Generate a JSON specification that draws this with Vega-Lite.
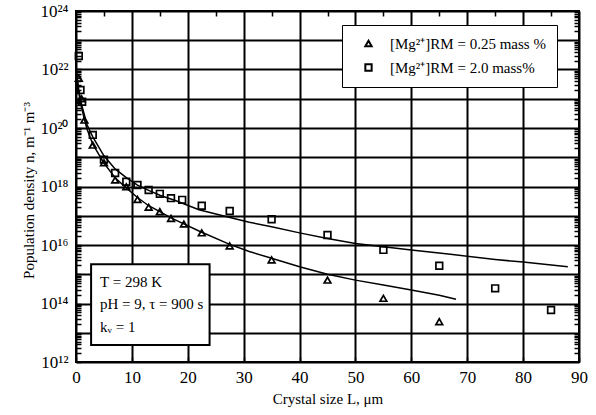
{
  "$schema": "https://vega.github.io/schema/vega-lite/v6.json",
  "width": 503,
  "height": 351,
  "autosize": {"type": "none"},
  "padding": {"left": 76, "top": 11, "right": 17, "bottom": 53},
  "background": "white",
  "config": {
    "view": {"stroke": "black", "strokeWidth": 2},
    "font": "Liberation Serif",
    "axis": {"labelFont": "Liberation Serif", "titleFont": "Liberation Serif", "labelColor": "black", "titleColor": "black", "titleFontWeight": "normal", "tickColor": "black", "tickWidth": 1.5, "gridColor": "black", "gridWidth": 2, "ticks": true, "domain": false},
    "legend": {"labelFont": "Liberation Serif", "labelColor": "black"}
  },
  "datasets": {
    "one": [{"note": "conditions"}],
    "pts": [
      {"series": "[Mg²⁺]RM = 0.25 mass %", "L": 0.5, "n": 5.0e21},
      {"series": "[Mg²⁺]RM = 0.25 mass %", "L": 1.0, "n": 1.0e21},
      {"series": "[Mg²⁺]RM = 0.25 mass %", "L": 1.5, "n": 1.86e20},
      {"series": "[Mg²⁺]RM = 0.25 mass %", "L": 3, "n": 2.6e19},
      {"series": "[Mg²⁺]RM = 0.25 mass %", "L": 5, "n": 6.5e18},
      {"series": "[Mg²⁺]RM = 0.25 mass %", "L": 7, "n": 1.66e18},
      {"series": "[Mg²⁺]RM = 0.25 mass %", "L": 9, "n": 9.8e17},
      {"series": "[Mg²⁺]RM = 0.25 mass %", "L": 11, "n": 3.6e17},
      {"series": "[Mg²⁺]RM = 0.25 mass %", "L": 13, "n": 1.95e17},
      {"series": "[Mg²⁺]RM = 0.25 mass %", "L": 15, "n": 1.38e17},
      {"series": "[Mg²⁺]RM = 0.25 mass %", "L": 17, "n": 8.1e16},
      {"series": "[Mg²⁺]RM = 0.25 mass %", "L": 19.3, "n": 5.2e16},
      {"series": "[Mg²⁺]RM = 0.25 mass %", "L": 22.5, "n": 2.6e16},
      {"series": "[Mg²⁺]RM = 0.25 mass %", "L": 27.5, "n": 9.3e15},
      {"series": "[Mg²⁺]RM = 0.25 mass %", "L": 35, "n": 3.1e15},
      {"series": "[Mg²⁺]RM = 0.25 mass %", "L": 45, "n": 6.3e14},
      {"series": "[Mg²⁺]RM = 0.25 mass %", "L": 55, "n": 1.5e14},
      {"series": "[Mg²⁺]RM = 0.25 mass %", "L": 65, "n": 2.4e13},
      {"series": "[Mg²⁺]RM = 2.0 mass%", "L": 0.5, "n": 2.9e22},
      {"series": "[Mg²⁺]RM = 2.0 mass%", "L": 0.8, "n": 2.0e21},
      {"series": "[Mg²⁺]RM = 2.0 mass%", "L": 1.1, "n": 7.9e20},
      {"series": "[Mg²⁺]RM = 2.0 mass%", "L": 3, "n": 5.8e19},
      {"series": "[Mg²⁺]RM = 2.0 mass%", "L": 5, "n": 8.3e18},
      {"series": "[Mg²⁺]RM = 2.0 mass%", "L": 7, "n": 2.9e18},
      {"series": "[Mg²⁺]RM = 2.0 mass%", "L": 9, "n": 1.45e18},
      {"series": "[Mg²⁺]RM = 2.0 mass%", "L": 11, "n": 1.12e18},
      {"series": "[Mg²⁺]RM = 2.0 mass%", "L": 13, "n": 7.6e17},
      {"series": "[Mg²⁺]RM = 2.0 mass%", "L": 15, "n": 5.6e17},
      {"series": "[Mg²⁺]RM = 2.0 mass%", "L": 17, "n": 4.0e17},
      {"series": "[Mg²⁺]RM = 2.0 mass%", "L": 19, "n": 3.5e17},
      {"series": "[Mg²⁺]RM = 2.0 mass%", "L": 22.5, "n": 2.2e17},
      {"series": "[Mg²⁺]RM = 2.0 mass%", "L": 27.5, "n": 1.45e17},
      {"series": "[Mg²⁺]RM = 2.0 mass%", "L": 35, "n": 7.6e16},
      {"series": "[Mg²⁺]RM = 2.0 mass%", "L": 45, "n": 2.2e16},
      {"series": "[Mg²⁺]RM = 2.0 mass%", "L": 55, "n": 6.8e15},
      {"series": "[Mg²⁺]RM = 2.0 mass%", "L": 65, "n": 1.95e15},
      {"series": "[Mg²⁺]RM = 2.0 mass%", "L": 75, "n": 3.3e14},
      {"series": "[Mg²⁺]RM = 2.0 mass%", "L": 85, "n": 6.0e13}
    ],
    "fits": [
      {"fit": "low", "L": 0, "n": 1.0e22},
      {"fit": "low", "L": 0.5, "n": 1.6e21},
      {"fit": "low", "L": 1, "n": 5.0e20},
      {"fit": "low", "L": 1.5, "n": 2.0e20},
      {"fit": "low", "L": 2, "n": 8.9e19},
      {"fit": "low", "L": 3, "n": 2.8e19},
      {"fit": "low", "L": 5, "n": 6.3e18},
      {"fit": "low", "L": 7, "n": 2.0e18},
      {"fit": "low", "L": 9, "n": 8.9e17},
      {"fit": "low", "L": 11, "n": 4.2e17},
      {"fit": "low", "L": 13, "n": 2.2e17},
      {"fit": "low", "L": 15, "n": 1.38e17},
      {"fit": "low", "L": 17, "n": 8.5e16},
      {"fit": "low", "L": 19, "n": 5.6e16},
      {"fit": "low", "L": 22, "n": 3.0e16},
      {"fit": "low", "L": 27.5, "n": 1.05e16},
      {"fit": "low", "L": 31, "n": 6.0e15},
      {"fit": "low", "L": 35, "n": 3.5e15},
      {"fit": "low", "L": 40, "n": 1.8e15},
      {"fit": "low", "L": 45, "n": 1.0e15},
      {"fit": "low", "L": 50, "n": 6.3e14},
      {"fit": "low", "L": 55, "n": 4.3e14},
      {"fit": "low", "L": 60, "n": 2.9e14},
      {"fit": "low", "L": 65, "n": 1.9e14},
      {"fit": "low", "L": 68, "n": 1.4e14},
      {"fit": "high", "L": 0, "n": 1.0e22},
      {"fit": "high", "L": 0.5, "n": 2.0e21},
      {"fit": "high", "L": 1, "n": 6.3e20},
      {"fit": "high", "L": 2, "n": 1.26e20},
      {"fit": "high", "L": 3, "n": 5.0e19},
      {"fit": "high", "L": 5, "n": 1.12e19},
      {"fit": "high", "L": 7, "n": 4.0e18},
      {"fit": "high", "L": 9, "n": 2.0e18},
      {"fit": "high", "L": 11, "n": 1.12e18},
      {"fit": "high", "L": 13, "n": 7.4e17},
      {"fit": "high", "L": 15, "n": 5.0e17},
      {"fit": "high", "L": 18, "n": 3.2e17},
      {"fit": "high", "L": 22, "n": 1.6e17},
      {"fit": "high", "L": 27, "n": 9.3e16},
      {"fit": "high", "L": 31, "n": 6.0e16},
      {"fit": "high", "L": 35, "n": 4.2e16},
      {"fit": "high", "L": 40, "n": 2.6e16},
      {"fit": "high", "L": 45, "n": 1.66e16},
      {"fit": "high", "L": 50, "n": 1.12e16},
      {"fit": "high", "L": 55, "n": 8.7e15},
      {"fit": "high", "L": 60, "n": 6.8e15},
      {"fit": "high", "L": 67, "n": 4.8e15},
      {"fit": "high", "L": 75, "n": 3.2e15},
      {"fit": "high", "L": 80, "n": 2.6e15},
      {"fit": "high", "L": 88, "n": 1.8e15}
    ]
  },
  "resolve": {"scale": {"x": "independent", "y": "independent"}, "axis": {"x": "independent", "y": "independent"}},
  "layer": [
    {
      "layer": [
        {
          "data": {"name": "one"},
          "mark": {"type": "rect", "fill": "white", "stroke": "black", "strokeWidth": 2},
          "encoding": {
            "x": {"datum": 2.7, "type": "quantitative"},
            "x2": {"datum": 23.9},
            "y": {"datum": 2.2e15, "type": "quantitative"},
            "y2": {"datum": 3.8e12}
          }
        },
        {
          "data": {"name": "one"},
          "mark": {"type": "text", "text": ["T = 298 K", "pH = 9, τ = 900 s", "kᵥ = 1"], "align": "left", "baseline": "middle", "lineHeight": 22.5, "fontSize": 15, "font": "Liberation Serif", "color": "black"},
          "encoding": {
            "x": {"datum": 4.3, "type": "quantitative"},
            "y": {"datum": 5.6e14, "type": "quantitative"}
          }
        },
        {
          "data": {"name": "pts"},
          "mark": {"type": "point", "filled": false, "color": "black", "strokeWidth": 1.7, "size": 45, "opacity": 1},
          "encoding": {
            "x": {"field": "L", "type": "quantitative", "scale": {"domain": [0, 90], "nice": false},
              "axis": {"title": "Crystal size  L, μm", "titleFontSize": 15, "titlePadding": 6, "values": [0,5,10,15,20,25,30,35,40,45,50,55,60,65,70,75,80,85,90], "labelExpr": "datum.value % 10 == 0 ? datum.label : ''", "labelFontSize": 17, "labelFlush": false, "labelOverlap": false, "labelPadding": 7, "offset": -5, "tickSize": 5, "grid": true,
                "gridOpacity": {"condition": {"test": "datum.value % 10 == 0", "value": 1}, "value": 0}}},
            "y": {"field": "n", "type": "quantitative", "scale": {"type": "log", "domain": [1e12, 1e24], "nice": false},
              "axis": {"title": "Population density  n,  m⁻¹ m⁻³", "titleFontSize": 15, "titleBaseline": "alphabetic", "titleX": -48, "titleY": 179, "grid": true,
                "values": [1e12,2e12,3e12,4e12,5e12,6e12,7e12,8e12,9e12,1e13,2e13,3e13,4e13,5e13,6e13,7e13,8e13,9e13,1e14,2e14,3e14,4e14,5e14,6e14,7e14,8e14,9e14,1e15,2e15,3e15,4e15,5e15,6e15,7e15,8e15,9e15,1e16,2e16,3e16,4e16,5e16,6e16,7e16,8e16,9e16,1e17,2e17,3e17,4e17,5e17,6e17,7e17,8e17,9e17,1e18,2e18,3e18,4e18,5e18,6e18,7e18,8e18,9e18,1e19,2e19,3e19,4e19,5e19,6e19,7e19,8e19,9e19,1e20,2e20,3e20,4e20,5e20,6e20,7e20,8e20,9e20,1e21,2e21,3e21,4e21,5e21,6e21,7e21,8e21,9e21,1e22,2e22,3e22,4e22,5e22,6e22,7e22,8e22,9e22,1e23,2e23,3e23,4e23,5e23,6e23,7e23,8e23,9e23,1e24],
                "labelExpr": "abs(log(datum.value)/LN10 - round(log(datum.value)/LN10)) < 0.0001 ? ({'12':'10¹²','14':'10¹⁴','16':'10¹⁶','18':'10¹⁸','20':'10²⁰','22':'10²²','24':'10²⁴'}[format(log(datum.value)/LN10, '.0f')] || '') : ''",
                "labelFontSize": 17, "labelOverlap": false, "labelFlush": false, "labelPadding": 8, "offset": -5, "tickSize": 5,
                "gridOpacity": {"condition": {"test": "abs(log(datum.value)/LN10 - round(log(datum.value)/LN10)) < 0.0001", "value": 1}, "value": 0}}},
            "shape": {"field": "series", "type": "nominal", "scale": {"range": ["triangle-up", "square"]},
              "legend": {"title": null, "orient": "none", "legendX": 266, "legendY": 14, "fillColor": "white", "strokeColor": "black", "padding": 11, "labelFontSize": 15, "symbolSize": 40, "symbolStrokeWidth": 2, "symbolStrokeColor": "black", "symbolFillColor": "white", "rowPadding": 8, "labelOffset": 14, "symbolOffset": 8, "labelLimit": 300}}
          }
        }
      ]
    },
    {
      "data": {"name": "fits"},
      "mark": {"type": "line", "color": "black", "strokeWidth": 1.5},
      "encoding": {
        "x": {"field": "L", "type": "quantitative", "scale": {"domain": [0, 90], "nice": false},
          "axis": {"orient": "top", "title": null, "labels": false, "grid": false, "ticks": true, "values": [5,15,25,35,45,55,65,75,85], "offset": -5, "tickSize": 5}},
        "y": {"field": "n", "type": "quantitative", "scale": {"type": "log", "domain": [1e12, 1e24], "nice": false},
          "axis": {"orient": "right", "title": null, "labels": false, "grid": false, "ticks": true, "offset": -5, "tickSize": 5,
            "values": [2e12,3e12,4e12,5e12,6e12,7e12,8e12,9e12,2e13,3e13,4e13,5e13,6e13,7e13,8e13,9e13,2e14,3e14,4e14,5e14,6e14,7e14,8e14,9e14,2e15,3e15,4e15,5e15,6e15,7e15,8e15,9e15,2e16,3e16,4e16,5e16,6e16,7e16,8e16,9e16,2e17,3e17,4e17,5e17,6e17,7e17,8e17,9e17,2e18,3e18,4e18,5e18,6e18,7e18,8e18,9e18,2e19,3e19,4e19,5e19,6e19,7e19,8e19,9e19,2e20,3e20,4e20,5e20,6e20,7e20,8e20,9e20,2e21,3e21,4e21,5e21,6e21,7e21,8e21,9e21,2e22,3e22,4e22,5e22,6e22,7e22,8e22,9e22,2e23,3e23,4e23,5e23,6e23,7e23,8e23,9e23]}},
        "detail": {"field": "fit", "type": "nominal"}
      }
    }
  ]
}
